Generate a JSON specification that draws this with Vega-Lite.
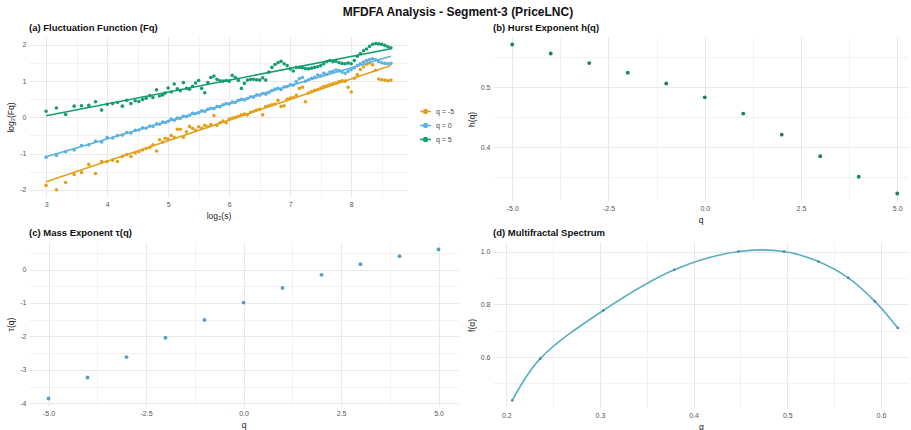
{
"$schema": "https://vega.github.io/schema/vega-lite/v6.json",
"background": "white",
"padding": {"left": 6, "top": 5, "right": 0, "bottom": 0},
"title": {"text": "MFDFA Analysis - Segment-3 (PriceLNC)", "anchor": "middle", "frame": "bounds", "fontSize": 12, "fontWeight": "bold", "font": "Liberation Sans", "color": "#111", "offset": 4},
"config": {
  "font": "Liberation Sans",
  "view": {"stroke": null},
  "locale": {"number": {"decimal": ".", "thousands": ",", "grouping": [3], "currency": ["$", ""], "minus": "-"}},
  "axis": {"domain": false, "ticks": false, "labelFontSize": 7, "labelColor": "#555", "labelFont": "Liberation Sans", "titleFont": "Liberation Sans", "titleFontSize": 8.5, "titleFontWeight": "normal", "titleColor": "#222", "gridColor": "#e9e9e9", "labelPadding": 3, "titlePadding": 4},
  "title": {"anchor": "start", "fontSize": 9.5, "fontWeight": "bold", "font": "Liberation Sans", "color": "#111", "offset": 5, "frame": "group"}
},
"datasets": {
"fq": [
{"q":"q = -5","ls":3.00,"lf":-1.88},{"q":"q = -5","ls":3.17,"lf":-2.00},{"q":"q = -5","ls":3.32,"lf":-1.80},{"q":"q = -5","ls":3.46,"lf":-1.58},{"q":"q = -5","ls":3.58,"lf":-1.52},{"q":"q = -5","ls":3.70,"lf":-1.30},{"q":"q = -5","ls":3.81,"lf":-1.55},{"q":"q = -5","ls":3.91,"lf":-1.22},{"q":"q = -5","ls":4.00,"lf":-1.22},{"q":"q = -5","ls":4.09,"lf":-1.18},{"q":"q = -5","ls":4.17,"lf":-1.22},{"q":"q = -5","ls":4.25,"lf":-1.08},{"q":"q = -5","ls":4.32,"lf":-1.03},{"q":"q = -5","ls":4.39,"lf":-1.08},{"q":"q = -5","ls":4.46,"lf":-0.98},{"q":"q = -5","ls":4.52,"lf":-0.95},{"q":"q = -5","ls":4.58,"lf":-0.90},{"q":"q = -5","ls":4.64,"lf":-0.86},{"q":"q = -5","ls":4.70,"lf":-0.83},{"q":"q = -5","ls":4.75,"lf":-0.76},{"q":"q = -5","ls":4.81,"lf":-0.93},{"q":"q = -5","ls":4.86,"lf":-0.62},{"q":"q = -5","ls":4.91,"lf":-0.68},{"q":"q = -5","ls":4.95,"lf":-0.58},
{"q":"q = -5","ls":5.00,"lf":-0.60},{"q":"q = -5","ls":5.05,"lf":-0.50},{"q":"q = -5","ls":5.10,"lf":-0.56},{"q":"q = -5","ls":5.15,"lf":-0.33},{"q":"q = -5","ls":5.20,"lf":-0.33},{"q":"q = -5","ls":5.25,"lf":-0.55},{"q":"q = -5","ls":5.30,"lf":-0.40},{"q":"q = -5","ls":5.35,"lf":-0.25},{"q":"q = -5","ls":5.40,"lf":-0.30},{"q":"q = -5","ls":5.45,"lf":-0.36},{"q":"q = -5","ls":5.50,"lf":-0.26},{"q":"q = -5","ls":5.55,"lf":-0.30},{"q":"q = -5","ls":5.60,"lf":-0.22},{"q":"q = -5","ls":5.65,"lf":-0.26},{"q":"q = -5","ls":5.70,"lf":-0.20},{"q":"q = -5","ls":5.75,"lf":0.05},{"q":"q = -5","ls":5.80,"lf":-0.22},{"q":"q = -5","ls":5.85,"lf":-0.15},{"q":"q = -5","ls":5.90,"lf":-0.10},{"q":"q = -5","ls":5.95,"lf":-0.15},{"q":"q = -5","ls":6.00,"lf":-0.05},{"q":"q = -5","ls":6.05,"lf":-0.02},{"q":"q = -5","ls":6.10,"lf":0.00},{"q":"q = -5","ls":6.15,"lf":0.03},{"q":"q = -5","ls":6.20,"lf":0.07},{"q":"q = -5","ls":6.25,"lf":0.09},{"q":"q = -5","ls":6.30,"lf":0.07},{"q":"q = -5","ls":6.35,"lf":0.14},{"q":"q = -5","ls":6.40,"lf":0.17},{"q":"q = -5","ls":6.45,"lf":0.20},{"q":"q = -5","ls":6.50,"lf":0.22},{"q":"q = -5","ls":6.55,"lf":0.07},{"q":"q = -5","ls":6.60,"lf":0.30},{"q":"q = -5","ls":6.65,"lf":0.32},{"q":"q = -5","ls":6.70,"lf":0.35},{"q":"q = -5","ls":6.75,"lf":0.37},{"q":"q = -5","ls":6.80,"lf":0.47},{"q":"q = -5","ls":6.85,"lf":0.30},{"q":"q = -5","ls":6.90,"lf":0.32},{"q":"q = -5","ls":6.95,"lf":0.50},{"q":"q = -5","ls":7.00,"lf":0.53},{"q":"q = -5","ls":7.05,"lf":0.55},{"q":"q = -5","ls":7.10,"lf":0.61},{"q":"q = -5","ls":7.15,"lf":0.80},{"q":"q = -5","ls":7.20,"lf":0.83},{"q":"q = -5","ls":7.25,"lf":0.43},{"q":"q = -5","ls":7.30,"lf":0.67},{"q":"q = -5","ls":7.35,"lf":0.71},{"q":"q = -5","ls":7.40,"lf":0.75},{"q":"q = -5","ls":7.45,"lf":0.77},{"q":"q = -5","ls":7.50,"lf":0.81},{"q":"q = -5","ls":7.55,"lf":0.85},{"q":"q = -5","ls":7.60,"lf":0.87},{"q":"q = -5","ls":7.65,"lf":0.90},{"q":"q = -5","ls":7.70,"lf":0.93},{"q":"q = -5","ls":7.75,"lf":0.95},{"q":"q = -5","ls":7.80,"lf":0.99},{"q":"q = -5","ls":7.85,"lf":1.01},{"q":"q = -5","ls":7.90,"lf":1.00},{"q":"q = -5","ls":7.95,"lf":0.83},{"q":"q = -5","ls":8.00,"lf":0.70},{"q":"q = -5","ls":8.05,"lf":1.08},{"q":"q = -5","ls":8.10,"lf":1.18},{"q":"q = -5","ls":8.15,"lf":1.32},{"q":"q = -5","ls":8.20,"lf":1.40},{"q":"q = -5","ls":8.25,"lf":1.47},{"q":"q = -5","ls":8.30,"lf":1.50},{"q":"q = -5","ls":8.35,"lf":1.45},{"q":"q = -5","ls":8.40,"lf":1.30},{"q":"q = -5","ls":8.45,"lf":1.06},{"q":"q = -5","ls":8.50,"lf":1.04},{"q":"q = -5","ls":8.55,"lf":1.03},{"q":"q = -5","ls":8.60,"lf":1.01},{"q":"q = -5","ls":8.65,"lf":1.03},
{"q":"q = 0","ls":3.00,"lf":-1.10},{"q":"q = 0","ls":3.17,"lf":-1.05},{"q":"q = 0","ls":3.32,"lf":-0.95},{"q":"q = 0","ls":3.46,"lf":-0.90},{"q":"q = 0","ls":3.58,"lf":-0.78},{"q":"q = 0","ls":3.70,"lf":-0.76},{"q":"q = 0","ls":3.81,"lf":-0.66},{"q":"q = 0","ls":3.91,"lf":-0.68},{"q":"q = 0","ls":4.00,"lf":-0.56},{"q":"q = 0","ls":4.09,"lf":-0.57},{"q":"q = 0","ls":4.17,"lf":-0.50},{"q":"q = 0","ls":4.25,"lf":-0.49},{"q":"q = 0","ls":4.32,"lf":-0.42},{"q":"q = 0","ls":4.39,"lf":-0.43},{"q":"q = 0","ls":4.46,"lf":-0.36},{"q":"q = 0","ls":4.52,"lf":-0.35},{"q":"q = 0","ls":4.58,"lf":-0.29},{"q":"q = 0","ls":4.64,"lf":-0.30},{"q":"q = 0","ls":4.70,"lf":-0.24},{"q":"q = 0","ls":4.75,"lf":-0.25},{"q":"q = 0","ls":4.81,"lf":-0.18},{"q":"q = 0","ls":4.86,"lf":-0.19},{"q":"q = 0","ls":4.91,"lf":-0.13},{"q":"q = 0","ls":4.95,"lf":-0.14},
{"q":"q = 0","ls":5.00,"lf":-0.11},{"q":"q = 0","ls":5.05,"lf":-0.05},{"q":"q = 0","ls":5.10,"lf":-0.08},{"q":"q = 0","ls":5.15,"lf":-0.02},{"q":"q = 0","ls":5.20,"lf":-0.03},{"q":"q = 0","ls":5.25,"lf":0.03},{"q":"q = 0","ls":5.30,"lf":0.02},{"q":"q = 0","ls":5.35,"lf":0.06},{"q":"q = 0","ls":5.40,"lf":0.11},{"q":"q = 0","ls":5.45,"lf":0.10},{"q":"q = 0","ls":5.50,"lf":0.13},{"q":"q = 0","ls":5.55,"lf":0.18},{"q":"q = 0","ls":5.60,"lf":0.16},{"q":"q = 0","ls":5.65,"lf":0.22},{"q":"q = 0","ls":5.70,"lf":0.25},{"q":"q = 0","ls":5.75,"lf":0.24},{"q":"q = 0","ls":5.80,"lf":0.30},{"q":"q = 0","ls":5.85,"lf":0.29},{"q":"q = 0","ls":5.90,"lf":0.35},{"q":"q = 0","ls":5.95,"lf":0.38},{"q":"q = 0","ls":6.00,"lf":0.37},{"q":"q = 0","ls":6.05,"lf":0.42},{"q":"q = 0","ls":6.10,"lf":0.41},{"q":"q = 0","ls":6.15,"lf":0.47},{"q":"q = 0","ls":6.20,"lf":0.50},{"q":"q = 0","ls":6.25,"lf":0.48},{"q":"q = 0","ls":6.30,"lf":0.52},{"q":"q = 0","ls":6.35,"lf":0.57},{"q":"q = 0","ls":6.40,"lf":0.56},{"q":"q = 0","ls":6.45,"lf":0.62},{"q":"q = 0","ls":6.50,"lf":0.61},{"q":"q = 0","ls":6.55,"lf":0.66},{"q":"q = 0","ls":6.60,"lf":0.64},{"q":"q = 0","ls":6.65,"lf":0.69},{"q":"q = 0","ls":6.70,"lf":0.74},{"q":"q = 0","ls":6.75,"lf":0.78},{"q":"q = 0","ls":6.80,"lf":0.80},{"q":"q = 0","ls":6.85,"lf":0.77},{"q":"q = 0","ls":6.90,"lf":0.84},{"q":"q = 0","ls":6.95,"lf":0.85},{"q":"q = 0","ls":7.00,"lf":0.90},{"q":"q = 0","ls":7.05,"lf":0.89},{"q":"q = 0","ls":7.10,"lf":0.99},{"q":"q = 0","ls":7.15,"lf":1.07},{"q":"q = 0","ls":7.20,"lf":1.10},{"q":"q = 0","ls":7.25,"lf":1.00},{"q":"q = 0","ls":7.30,"lf":1.04},{"q":"q = 0","ls":7.35,"lf":1.08},{"q":"q = 0","ls":7.40,"lf":1.11},{"q":"q = 0","ls":7.45,"lf":1.17},{"q":"q = 0","ls":7.50,"lf":1.15},{"q":"q = 0","ls":7.55,"lf":1.22},{"q":"q = 0","ls":7.60,"lf":1.19},{"q":"q = 0","ls":7.65,"lf":1.25},{"q":"q = 0","ls":7.70,"lf":1.27},{"q":"q = 0","ls":7.75,"lf":1.31},{"q":"q = 0","ls":7.80,"lf":1.29},{"q":"q = 0","ls":7.85,"lf":1.25},{"q":"q = 0","ls":7.90,"lf":1.22},{"q":"q = 0","ls":7.95,"lf":1.27},{"q":"q = 0","ls":8.00,"lf":1.32},{"q":"q = 0","ls":8.05,"lf":1.37},{"q":"q = 0","ls":8.10,"lf":1.43},{"q":"q = 0","ls":8.15,"lf":1.48},{"q":"q = 0","ls":8.20,"lf":1.53},{"q":"q = 0","ls":8.25,"lf":1.57},{"q":"q = 0","ls":8.30,"lf":1.60},{"q":"q = 0","ls":8.35,"lf":1.62},{"q":"q = 0","ls":8.40,"lf":1.59},{"q":"q = 0","ls":8.45,"lf":1.54},{"q":"q = 0","ls":8.50,"lf":1.51},{"q":"q = 0","ls":8.55,"lf":1.49},{"q":"q = 0","ls":8.60,"lf":1.48},{"q":"q = 0","ls":8.65,"lf":1.49},
{"q":"q = 5","ls":3.00,"lf":0.17},{"q":"q = 5","ls":3.17,"lf":0.26},{"q":"q = 5","ls":3.32,"lf":0.08},{"q":"q = 5","ls":3.46,"lf":0.31},{"q":"q = 5","ls":3.58,"lf":0.32},{"q":"q = 5","ls":3.70,"lf":0.33},{"q":"q = 5","ls":3.81,"lf":0.43},{"q":"q = 5","ls":3.91,"lf":0.20},{"q":"q = 5","ls":4.00,"lf":0.36},{"q":"q = 5","ls":4.09,"lf":0.38},{"q":"q = 5","ls":4.17,"lf":0.41},{"q":"q = 5","ls":4.25,"lf":0.31},{"q":"q = 5","ls":4.32,"lf":0.47},{"q":"q = 5","ls":4.39,"lf":0.38},{"q":"q = 5","ls":4.46,"lf":0.46},{"q":"q = 5","ls":4.52,"lf":0.44},{"q":"q = 5","ls":4.58,"lf":0.49},{"q":"q = 5","ls":4.64,"lf":0.53},{"q":"q = 5","ls":4.70,"lf":0.60},{"q":"q = 5","ls":4.75,"lf":0.55},{"q":"q = 5","ls":4.81,"lf":0.76},{"q":"q = 5","ls":4.86,"lf":0.59},{"q":"q = 5","ls":4.91,"lf":0.62},{"q":"q = 5","ls":4.95,"lf":0.67},
{"q":"q = 5","ls":5.00,"lf":0.81},{"q":"q = 5","ls":5.05,"lf":0.70},{"q":"q = 5","ls":5.10,"lf":0.92},{"q":"q = 5","ls":5.15,"lf":0.79},{"q":"q = 5","ls":5.20,"lf":0.74},{"q":"q = 5","ls":5.25,"lf":0.96},{"q":"q = 5","ls":5.30,"lf":0.80},{"q":"q = 5","ls":5.35,"lf":0.78},{"q":"q = 5","ls":5.40,"lf":0.86},{"q":"q = 5","ls":5.45,"lf":0.95},{"q":"q = 5","ls":5.50,"lf":1.02},{"q":"q = 5","ls":5.55,"lf":0.80},{"q":"q = 5","ls":5.60,"lf":0.68},{"q":"q = 5","ls":5.65,"lf":0.96},{"q":"q = 5","ls":5.70,"lf":1.10},{"q":"q = 5","ls":5.75,"lf":1.14},{"q":"q = 5","ls":5.80,"lf":1.05},{"q":"q = 5","ls":5.85,"lf":1.01},{"q":"q = 5","ls":5.90,"lf":1.00},{"q":"q = 5","ls":5.95,"lf":1.02},{"q":"q = 5","ls":6.00,"lf":1.00},{"q":"q = 5","ls":6.05,"lf":1.16},{"q":"q = 5","ls":6.10,"lf":1.10},{"q":"q = 5","ls":6.15,"lf":1.02},{"q":"q = 5","ls":6.20,"lf":0.80},{"q":"q = 5","ls":6.25,"lf":0.94},{"q":"q = 5","ls":6.30,"lf":1.03},{"q":"q = 5","ls":6.35,"lf":1.05},{"q":"q = 5","ls":6.40,"lf":1.05},{"q":"q = 5","ls":6.45,"lf":1.04},{"q":"q = 5","ls":6.50,"lf":1.03},{"q":"q = 5","ls":6.55,"lf":1.09},{"q":"q = 5","ls":6.60,"lf":1.03},{"q":"q = 5","ls":6.65,"lf":1.25},{"q":"q = 5","ls":6.70,"lf":1.38},{"q":"q = 5","ls":6.75,"lf":1.46},{"q":"q = 5","ls":6.80,"lf":1.51},{"q":"q = 5","ls":6.85,"lf":1.55},{"q":"q = 5","ls":6.90,"lf":1.48},{"q":"q = 5","ls":6.95,"lf":1.43},{"q":"q = 5","ls":7.00,"lf":1.34},{"q":"q = 5","ls":7.05,"lf":1.28},{"q":"q = 5","ls":7.10,"lf":1.38},{"q":"q = 5","ls":7.15,"lf":1.38},{"q":"q = 5","ls":7.20,"lf":1.37},{"q":"q = 5","ls":7.25,"lf":1.35},{"q":"q = 5","ls":7.30,"lf":1.34},{"q":"q = 5","ls":7.35,"lf":1.36},{"q":"q = 5","ls":7.40,"lf":1.38},{"q":"q = 5","ls":7.45,"lf":1.40},{"q":"q = 5","ls":7.50,"lf":1.43},{"q":"q = 5","ls":7.55,"lf":1.48},{"q":"q = 5","ls":7.60,"lf":1.54},{"q":"q = 5","ls":7.65,"lf":1.57},{"q":"q = 5","ls":7.70,"lf":1.54},{"q":"q = 5","ls":7.75,"lf":1.55},{"q":"q = 5","ls":7.80,"lf":1.51},{"q":"q = 5","ls":7.85,"lf":1.49},{"q":"q = 5","ls":7.90,"lf":1.48},{"q":"q = 5","ls":7.95,"lf":1.50},{"q":"q = 5","ls":8.00,"lf":1.48},{"q":"q = 5","ls":8.05,"lf":1.57},{"q":"q = 5","ls":8.10,"lf":1.69},{"q":"q = 5","ls":8.15,"lf":1.76},{"q":"q = 5","ls":8.20,"lf":1.84},{"q":"q = 5","ls":8.25,"lf":1.89},{"q":"q = 5","ls":8.30,"lf":1.96},{"q":"q = 5","ls":8.35,"lf":2.02},{"q":"q = 5","ls":8.40,"lf":2.04},{"q":"q = 5","ls":8.45,"lf":2.03},{"q":"q = 5","ls":8.50,"lf":2.02},{"q":"q = 5","ls":8.55,"lf":1.99},{"q":"q = 5","ls":8.60,"lf":1.95},{"q":"q = 5","ls":8.65,"lf":1.92}
],
"hq": [
{"q":-5,"h":0.571,"tau":-3.86},{"q":-4,"h":0.556,"tau":-3.23},{"q":-3,"h":0.540,"tau":-2.62},{"q":-2,"h":0.524,"tau":-2.04},{"q":-1,"h":0.506,"tau":-1.51},{"q":0,"h":0.483,"tau":-0.99},{"q":1,"h":0.456,"tau":-0.55},{"q":2,"h":0.421,"tau":-0.16},{"q":3,"h":0.385,"tau":0.16},{"q":4,"h":0.351,"tau":0.40},{"q":5,"h":0.323,"tau":0.60}
],
"spec": [
{"alpha":0.2064,"f":0.436},{"alpha":0.2362,"f":0.594},{"alpha":0.3037,"f":0.777},{"alpha":0.3794,"f":0.931},{"alpha":0.4480,"f":1.000},{"alpha":0.4966,"f":1.000},{"alpha":0.5332,"f":0.962},{"alpha":0.5652,"f":0.900},{"alpha":0.5936,"f":0.811},{"alpha":0.6181,"f":0.710}
]
},
"bounds": "flush",
"columns": 2,
"spacing": {"row": 41, "column": 35},
"concat": [
  {
   "width": 379, "height": 160,
   "title": {"text": "(a) Fluctuation Function (Fq)"},
   "data": {"name": "fq"},
   "encoding": {
     "x": {"field": "ls", "type": "quantitative", "scale": {"domain": [2.72, 8.93], "nice": false, "zero": false},
           "axis": {"title": "log₂(s)", "values": [3,3.5,4,4.5,5,5.5,6,6.5,7,7.5,8,8.5], "labelExpr": "datum.value % 1 === 0 ? '' + datum.value : ''", "gridWidth": {"condition": {"test": "datum.value % 1 === 0", "value": 1}, "value": 0.6}}},
     "y": {"field": "lf", "type": "quantitative", "scale": {"domain": [-2.2, 2.22], "nice": false, "zero": false},
           "axis": {"title": "log₂(Fq)", "values": [-2,-1.5,-1,-0.5,0,0.5,1,1.5,2], "labelExpr": "datum.value % 1 === 0 ? '' + datum.value : ''", "gridWidth": {"condition": {"test": "datum.value % 1 === 0", "value": 1}, "value": 0.6}}},
     "color": {"field": "q", "type": "nominal",
       "scale": {"domain": ["q = -5", "q = 0", "q = 5"], "range": ["#E3A01B", "#5DB1E0", "#149C72"]},
       "legend": {"title": null, "orient": "none", "legendX": 390, "legendY": 68,
         "symbolType": "M-1,0L1,0M0.36,0A0.36,0.36,0,1,1,-0.36,0A0.36,0.36,0,1,1,0.36,0Z",
         "symbolSize": 120, "symbolStrokeWidth": 1.5, "labelFontSize": 7, "labelColor": "#444", "rowPadding": 2, "labelOffset": 4,
         "encode": {"symbols": {"update": {
           "stroke": {"signal": "datum.value === 'q = -5' ? '#E3A01B' : datum.value === 'q = 0' ? '#5DB1E0' : '#149C72'"},
           "fill": {"signal": "datum.value === 'q = -5' ? '#E3A01B' : datum.value === 'q = 0' ? '#5DB1E0' : '#149C72'"},
           "opacity": {"value": 1}}}}}}
   },
   "layer": [
     {"mark": {"type": "point", "filled": true, "size": 13, "opacity": 1}},
     {"transform": [{"regression": "lf", "on": "ls", "groupby": ["q"]}],
      "mark": {"type": "line", "strokeWidth": 1.6}}
   ]
  },
  {
   "width": 415, "height": 164,
   "title": {"text": "(b) Hurst Exponent h(q)"},
   "data": {"name": "hq"},
   "mark": {"type": "point", "filled": true, "size": 15, "opacity": 1, "color": "#1E7F67"},
   "encoding": {
     "x": {"field": "q", "type": "quantitative", "scale": {"domain": [-5.5, 5.28], "nice": false, "zero": false},
           "axis": {"title": "q", "values": [-5,-3.75,-2.5,-1.25,0,1.25,2.5,3.75,5], "labelExpr": "datum.value % 2.5 === 0 ? format(datum.value, '.1f') : ''", "gridWidth": {"condition": {"test": "datum.value % 2.5 === 0", "value": 1}, "value": 0.6}}},
     "y": {"field": "h", "type": "quantitative", "scale": {"domain": [0.3106, 0.5834], "nice": false, "zero": false},
           "axis": {"title": "h(q)", "values": [0.35,0.4,0.45,0.5,0.55], "labelExpr": "abs(datum.value*10 - round(datum.value*10)) < 0.000001 ? format(datum.value, '.1f') : ''", "gridWidth": {"condition": {"test": "abs(datum.value*10 - round(datum.value*10)) < 0.000001", "value": 1}, "value": 0.6}}}
   }
  },
  {
   "width": 429, "height": 164,
   "title": {"text": "(c) Mass Exponent τ(q)"},
   "data": {"name": "hq"},
   "mark": {"type": "point", "filled": true, "size": 15, "opacity": 1, "color": "#5A9EBD"},
   "encoding": {
     "x": {"field": "q", "type": "quantitative", "scale": {"domain": [-5.5, 5.5], "nice": false, "zero": false},
           "axis": {"title": "q", "values": [-5,-3.75,-2.5,-1.25,0,1.25,2.5,3.75,5], "labelExpr": "datum.value % 2.5 === 0 ? format(datum.value, '.1f') : ''", "gridWidth": {"condition": {"test": "datum.value % 2.5 === 0", "value": 1}, "value": 0.6}}},
     "y": {"field": "tau", "type": "quantitative", "scale": {"domain": [-4.083, 0.823], "nice": false, "zero": false},
           "axis": {"title": "τ(q)", "values": [-4,-3.5,-3,-2.5,-2,-1.5,-1,-0.5,0,0.5], "labelExpr": "datum.value % 1 === 0 ? '' + datum.value : ''", "gridWidth": {"condition": {"test": "datum.value % 1 === 0", "value": 1}, "value": 0.6}}}
   }
  },
  {
   "width": 416, "height": 166,
   "title": {"text": "(d) Multifractal Spectrum"},
   "data": {"name": "spec"},
   "encoding": {
     "x": {"field": "alpha", "type": "quantitative", "scale": {"domain": [0.1858, 0.63], "nice": false, "zero": false},
           "axis": {"title": "α", "values": [0.2,0.25,0.3,0.35,0.4,0.45,0.5,0.55,0.6], "labelExpr": "abs(datum.value*10 - round(datum.value*10)) < 0.000001 ? format(datum.value, '.1f') : ''", "gridWidth": {"condition": {"test": "abs(datum.value*10 - round(datum.value*10)) < 0.000001", "value": 1}, "value": 0.6}}},
     "y": {"field": "f", "type": "quantitative", "scale": {"domain": [0.407, 1.036], "nice": false, "zero": false},
           "axis": {"title": "f(α)", "values": [0.5,0.6,0.7,0.8,0.9,1.0], "labelExpr": "abs(datum.value*5 - round(datum.value*5)) < 0.000001 ? format(datum.value, '.1f') : ''", "gridWidth": {"condition": {"test": "abs(datum.value*5 - round(datum.value*5)) < 0.000001", "value": 1}, "value": 0.6}}}
   },
   "layer": [
     {"mark": {"type": "line", "interpolate": "catmull-rom", "strokeWidth": 1.6, "color": "#5AAEC4"}},
     {"mark": {"type": "point", "filled": true, "size": 7, "opacity": 1, "color": "#3F8AA0"}}
   ]
  }
]
}
